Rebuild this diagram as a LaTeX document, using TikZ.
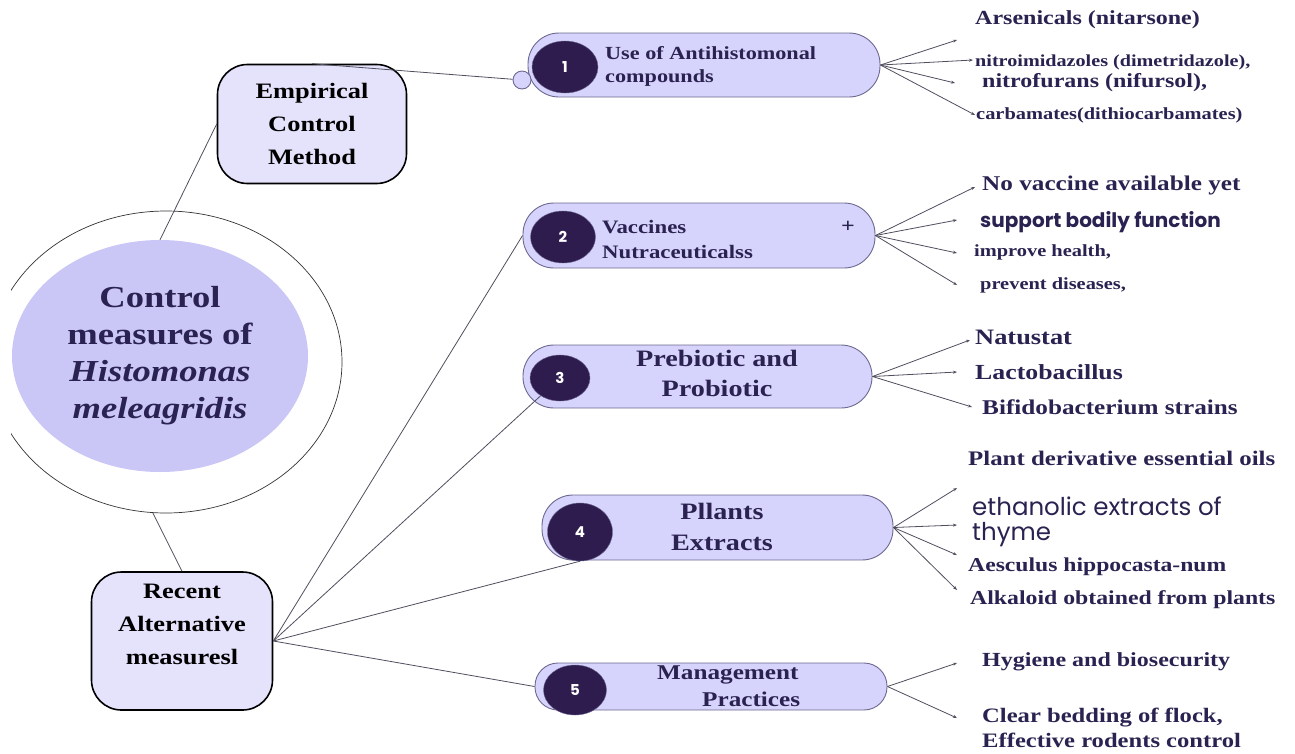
\documentclass[tikz,border=0pt]{standalone}
\usepackage{fontspec}
\setmainfont{Liberation Serif}[FakeStretch=1.2]
\newfontfamily\popfont{Poppins}
\usetikzlibrary{shapes.geometric,arrows.meta}

\definecolor{inkblue}{HTML}{2A2250}
\definecolor{pillfill}{HTML}{D6D3FC}
\definecolor{pillline}{HTML}{6C6890}
\definecolor{numfill}{HTML}{2E1C4F}
\definecolor{corefill}{HTML}{CAC6F6}
\definecolor{boxfill}{HTML}{E5E3FB}
\definecolor{linkgray}{HTML}{4E4E5E}
\newcommand{\fs}[2]{\fontsize{#1}{#2}\selectfont}

\tikzset{
  pill/.style={draw=pillline, fill=pillfill, line width=0.9pt, rounded corners=31pt, inner sep=0pt},
  numdot/.style={ellipse, draw=pillline, fill=numfill, text=white, inner sep=0pt, font=\popfont\bfseries\fs{15}{15}},
  methodbox/.style={draw=black, line width=1.6pt, fill=boxfill, rounded corners=30pt, align=center, font=\bfseries\fs{22}{33}},
  item/.style={anchor=west, text=inkblue, inner sep=0pt, align=left},
  link/.style={draw=linkgray, line width=0.8pt},
  tip/.style={link, -{Stealth[length=4pt,width=3pt]}},
}

\begin{document}
\begin{tikzpicture}[x=1pt,y=-1pt]
\useasboundingbox (0,0) rectangle (1295,753);

\begin{scope}
  \clip (11,0) rectangle (1295,753);
  \node[ellipse, draw=black!80, line width=0.7pt, minimum width=352, minimum height=302, inner sep=0pt] (ring) at (166,362) {};
  \node[ellipse, fill=corefill, minimum width=296, minimum height=232, inner sep=0pt] (core) at (160,356) {};
\end{scope}
\node[text=inkblue, align=center, font=\bfseries\fs{30.5}{37}] (title) at (160,356)
  {Control\\measures of\\\textit{Histomonas}\\\textit{meleagridis}};

\node[methodbox, minimum width=189, minimum height=119] (emp) at (312,124) {Empirical\\Control\\Method};
\node[methodbox, minimum width=181, minimum height=138] (rec) at (182,641) {Recent\\Alternative\\measuresl\\~};

\node[pill, minimum width=352, minimum height=64] (p1) at (704,65) {};
\node[pill, minimum width=352, minimum height=65] (p2) at (699,235.5) {};
\node[pill, minimum width=349, minimum height=63] (p3) at (697.5,376.5) {};
\node[pill, minimum width=351, minimum height=65] (p4) at (717.5,527.5) {};
\node[pill, minimum width=352, minimum height=47, rounded corners=23pt] (p5) at (711,686.5) {};
\node[circle, draw=pillline, fill=pillfill, line width=0.9pt, minimum size=18, inner sep=0pt] (knob) at (522,80) {};

\node[numdot, minimum width=66, minimum height=52] (n1) at (565,67) {1};
\node[numdot, minimum width=65, minimum height=52] (n2) at (563,237) {2};
\node[numdot, minimum width=60, minimum height=46] (n3) at (560,378) {3};
\node[numdot, minimum width=65, minimum height=58] (n4) at (580,532) {4};
\node[numdot, minimum width=63, minimum height=50] (n5) at (575,690) {5};

\draw[link] (core.north) -- (emp.west);
\draw[link] (ring.265) -- (rec.north);
\draw[link] (emp.north) -- (knob);
\draw[link] (rec.east) -- (p2.west);
\draw[link] (rec.east) -- (n3);
\draw[link] (rec.east) -- (n4.south);
\draw[link] (rec.east) -- (p5.west);

\node[item, font=\bfseries\fs{18.5}{23}] (t1) at (605,66) {Use of Antihistomonal\\compounds};
\node[item, font=\bfseries\fs{19}{25}] (t2) at (602,240) {Vaccines\\Nutraceuticalss};
\node[text=inkblue, font=\bfseries\fs{20}{20}] (plus) at (848,227) {+};
\node[text=inkblue, align=center, font=\bfseries\fs{23.5}{30}] (t3) at (717,373) {Prebiotic and\\Probiotic};
\node[text=inkblue, align=center, font=\bfseries\fs{23.5}{31}] (t4) at (722,527) {Pllants\\Extracts};
\node[item, font=\bfseries\fs{21}{27}] (t5) at (657,686) {Management\\\hspace*{45pt}Practices};

% antihistomonal compounds
\node[item, font=\bfseries\fs{20}{24}] (a11) at (975,20) {Arsenicals (nitarsone)};
\node[item, font=\bfseries\fs{16.8}{20}] (a12) at (975,62) {nitroimidazoles (dimetridazole),};
\node[item, font=\bfseries\fs{20}{24}] (a13) at (982,83) {nitrofurans (nifursol),};
\node[item, font=\bfseries\fs{17}{20}] (a14) at (976,115) {carbamates(dithiocarbamates)};
\coordinate (k11) at (957,40);
\coordinate (k12) at (973,60);
\coordinate (k13) at (955,83);
\coordinate (k14) at (975,115);
\draw[tip] (p1.east) -- (k11);
\draw[tip] (p1.east) -- (k12);
\draw[tip] (p1.east) -- (k13);
\draw[tip] (p1.east) -- (k14);

% vaccines
\node[item, font=\bfseries\fs{21}{25}] (b21) at (982,185) {No vaccine available yet};
\node[item, font=\popfont\bfseries\fs{20}{22}] (b22) at (980,222) {support bodily function};
\node[item, font=\bfseries\fs{17}{20}] (b23) at (974,252) {improve health,};
\node[item, font=\bfseries\fs{17}{20}] (b24) at (980,285) {prevent diseases,};
\coordinate (k21) at (975,187);
\coordinate (k22) at (957,220);
\coordinate (k23) at (957,253);
\coordinate (k24) at (957,285);
\draw[tip] (p2.east) -- (k21);
\draw[tip] (p2.east) -- (k22);
\draw[tip] (p2.east) -- (k23);
\draw[tip] (p2.east) -- (k24);

% pre/probiotics
\node[item, font=\bfseries\fs{22}{26}] (c31) at (975,337) {Natustat};
\node[item, font=\bfseries\fs{21.5}{26}] (c32) at (975,372) {Lactobacillus};
\node[item, font=\bfseries\fs{21}{26}] (c33) at (982,407) {Bifidobacterium strains};
\coordinate (k31) at (970,340);
\coordinate (k32) at (957,372);
\coordinate (k33) at (972,407);
\draw[tip] (p3.east) -- (k31);
\draw[tip] (p3.east) -- (k32);
\draw[tip] (p3.east) -- (k33);

% plant extracts
\node[item, font=\bfseries\fs{20.7}{25}] (d41) at (968,458) {Plant derivative essential oils};
\node[item, font=\popfont\fs{24.5}{25}] (d42) at (972,522) {ethanolic extracts of\\thyme};
\node[item, font=\bfseries\fs{19.7}{24}] (d43) at (968,567) {Aesculus hippocasta-num};
\node[item, font=\bfseries\fs{19.8}{24}] (d44) at (970,600) {Alkaloid obtained from plants};
\coordinate (k41) at (957,488);
\coordinate (k42) at (957,525);
\coordinate (k43) at (957,555);
\coordinate (k44) at (957,590);
\draw[tip] (p4.east) -- (k41);
\draw[tip] (p4.east) -- (k42);
\draw[tip] (p4.east) -- (k43);
\draw[tip] (p4.east) -- (k44);

% management
\node[item, font=\bfseries\fs{20}{24}] (e51) at (982,662) {Hygiene and biosecurity};
\node[item, font=\bfseries\fs{20.5}{25}] (e52) at (982,728) {Clear bedding of flock,\\Effective rodents control};
\coordinate (k51) at (957,663);
\coordinate (k52) at (957,718);
\draw[tip] (p5.east) -- (k51);
\draw[tip] (p5.east) -- (k52);
\end{tikzpicture}
\end{document}
